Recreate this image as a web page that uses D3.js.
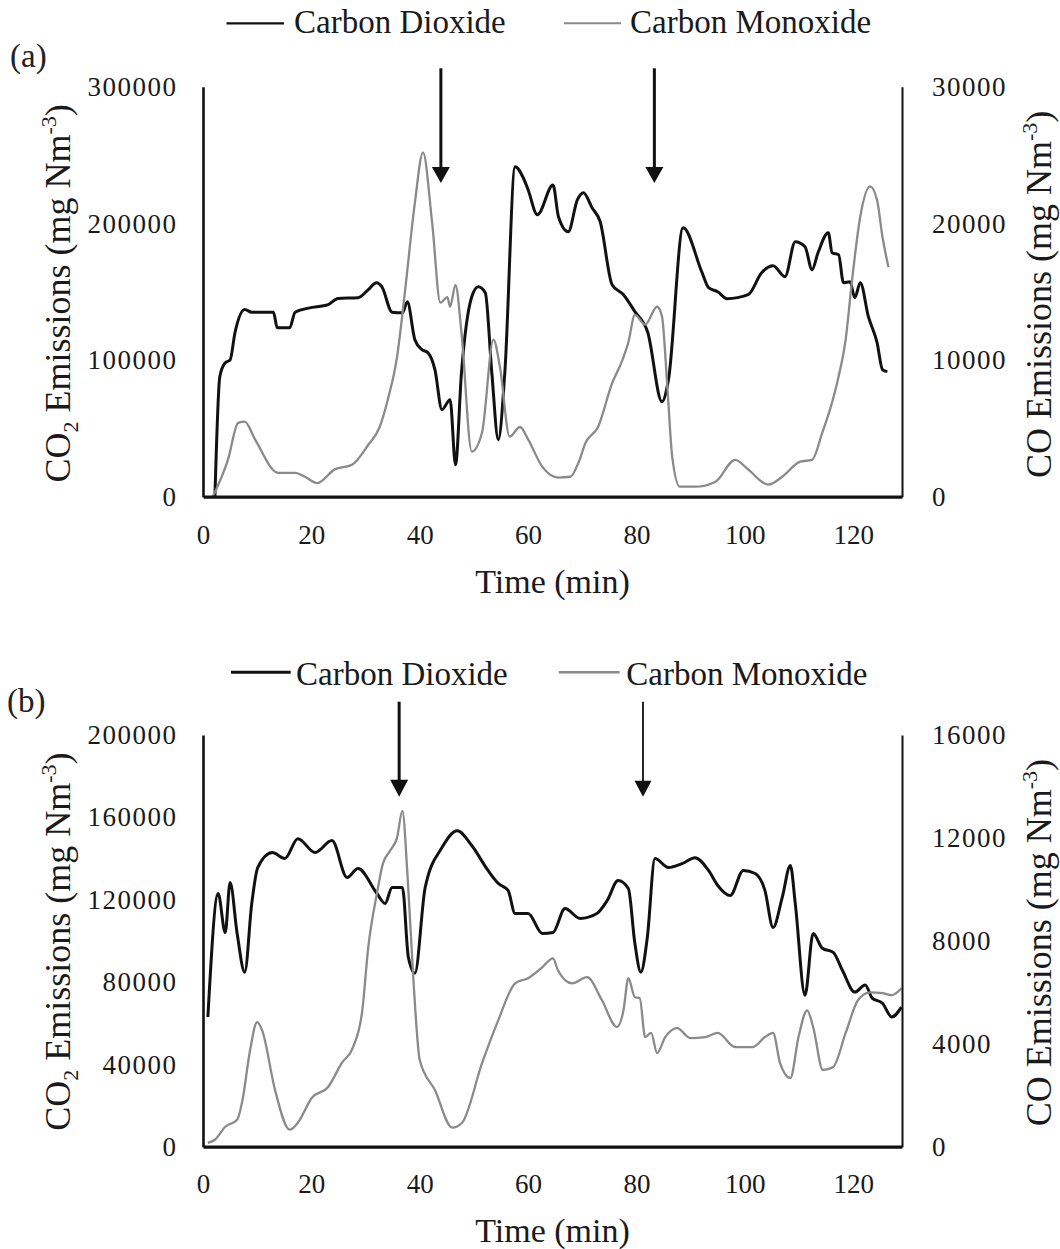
<!DOCTYPE html>
<html><head><meta charset="utf-8">
<script src="https://cdn.jsdelivr.net/npm/d3@7"></script>
<style>
html,body{margin:0;padding:0;background:#fff;}
svg{display:block;}
</style></head><body>
<svg id="chart" width="1060" height="1249"></svg>
<script>
// ---------- data ----------
const seriesNames = ["Carbon Dioxide", "Carbon Monoxide"];
const timeTicks = [0, 20, 40, 60, 80, 100, 120];
const co2TicksA = [0, 100000, 200000, 300000];
const coTicksA = [0, 10000, 20000, 30000];
const co2TicksB = [0, 40000, 80000, 120000, 160000, 200000];
const coTicksB = [0, 4000, 8000, 12000, 16000];

// Panel (a) – CO2
const timeA_CO2 = [2.2,3.1,4.1,5.0,5.9,7.7,9.0,13.0,13.7,16.0,17.0,19.5,23.1,24.9,28.6,30.5,32.0,33.0,34.9,36.8,37.7,39.1,40.4,41.5,42.8,44.1,45.6,46.6,47.7,49.6,50.8,52.1,53.3,54.5,55.7,57.6,59.1,60.0,61.7,64.6,65.6,67.4,69.1,70.2,71.8,73.3,75.5,77.6,79.7,82.1,84.7,85.9,88.6,92.1,93.3,95.0,96.7,100.6,103.1,105.2,107.4,109.3,111.1,112.4,113.5,115.4,116.1,117.3,118.2,119.4,120.3,121.3,122.8,124.4,125.4,126.3];
const co2A = [0,87800,98000,100000,120000,137000,135000,135000,123600,123600,135000,138000,140500,145000,145600,151500,156600,153700,135000,134600,142700,114900,107600,105400,93000,63700,71000,23400,90700,146300,153700,149300,90700,41700,90700,241500,233400,224600,206300,228000,204900,193900,217300,222400,211500,201200,155100,147800,135400,120000,69500,85600,196800,163900,152900,150000,144900,147800,163900,169000,161000,186600,182900,166100,178500,193200,178500,177000,156600,157300,145600,156600,131700,112700,92900,91500];
// Panel (a) – CO
const timeA_CO = [1.8,4.6,6.5,7.7,9.6,13.9,17.0,18.8,21.1,24.3,27.5,30.5,32.6,34.1,35.8,37.3,39.1,40.6,42.3,43.8,45.1,45.6,46.6,47.7,49.6,51.5,53.6,54.8,56.6,58.5,60.0,62.6,65.6,67.8,69.3,70.6,72.9,75.5,77.4,78.5,79.7,81.6,83.8,84.7,85.7,86.6,88.0,90.8,94.6,98.2,100.6,104.3,106.9,110.2,112.4,114.3,116.1,117.3,118.6,119.8,121.3,123.1,124.4,125.4,126.5];
const coA = [0,2700,5400,5500,4200,1750,1750,1460,1000,2000,2340,3800,5100,7100,10200,15100,21500,25200,20000,14200,14600,13900,15500,12000,3300,4700,11500,9500,4400,5100,4200,2200,1400,1460,2500,3950,5100,8300,10000,11300,13300,12600,13900,13200,8000,2900,730,730,1100,2700,2000,880,1460,2560,2700,4700,6900,8800,11500,15900,20500,22700,21700,19000,16800];

// Panel (b) – CO2
const timeB_CO2 = [0.9,2.8,4.1,5.0,6.3,7.7,9.0,10.1,12.8,15.1,17.5,20.7,23.8,26.6,28.6,32.1,33.6,34.9,36.8,37.9,39.1,41.0,44.1,46.9,49.6,52.6,54.5,56.3,57.6,60.0,62.6,64.6,66.8,69.6,72.7,74.6,76.6,78.5,79.7,80.8,82.0,83.4,85.9,88.4,90.8,93.3,95.0,97.3,99.7,101.9,103.7,105.2,106.9,108.4,109.3,111.1,112.6,114.3,116.3,118.0,120.3,122.2,123.5,125.4,127.1,128.9];
const co2B = [63000,123000,104000,128300,103600,84800,118200,135600,142900,140000,149600,142900,148700,130800,135100,123000,118200,125900,125900,92000,84300,125900,145300,153500,146300,134200,127900,124500,113300,113300,103600,104100,115700,110900,113300,119600,129300,125400,98800,84800,101700,140000,135600,137500,140400,134200,126900,122000,134200,132700,124500,106500,121100,136600,118200,73600,103600,96400,94400,85700,75100,78500,72200,69700,63000,67800];
// Panel (b) – CO
const timeB_CO = [0.9,2.2,4.1,6.3,7.3,8.6,10.0,10.9,13.3,16.0,17.5,20.1,23.1,25.6,27.7,29.4,30.5,32.1,33.2,34.5,35.8,36.8,37.7,38.8,40.0,42.8,46.0,47.8,51.5,54.5,57.6,60.0,62.6,64.6,65.5,68.1,70.9,73.6,76.4,77.6,78.5,79.7,80.6,81.6,82.7,83.8,85.3,87.5,89.9,92.7,95.0,98.2,101.4,103.7,105.2,106.5,108.4,109.9,111.5,112.6,114.4,116.3,118.6,120.9,123.1,125.4,127.1,128.9];
const coB = [150,270,775,1050,1820,3640,4840,4530,2200,660,930,1900,2320,3250,3870,5300,7750,9840,11000,11500,12000,13050,10700,6590,3370,2200,740,930,3250,4920,6350,6550,6970,7320,6860,6350,6590,5700,4650,5300,6550,5810,5770,4260,4420,3640,4260,4610,4220,4260,4420,3870,3870,4260,4420,3250,2670,4260,5300,4650,2980,3100,4420,5700,6000,5970,5890,6160];

const arrowTimesA = [43.9, 83.3];
const arrowTimesB = [36.2, 81.2];

// ---------- drawing ----------
const svg = d3.select("#chart");
const FONT = "'Liberation Serif','Times New Roman',Times,serif";
const BLACK = "#111";
const GREY = "#8a8a8a";
const x = d3.scaleLinear().domain([0, 129]).range([203, 902]);

function styleTicks(sel, size, spacing) {
  sel.selectAll("text")
    .attr("font-family", FONT).attr("font-size", size)
    .attr("letter-spacing", spacing + "px").attr("fill", "#1a1a1a");
}

function yTitle(g, tx, ty, withSub) {
  const t = g.append("text")
    .attr("transform", `translate(${tx},${ty}) rotate(-90)`)
    .attr("text-anchor", "middle")
    .attr("font-family", FONT).attr("font-size", 36).attr("fill", "#1a1a1a");
  if (withSub) {
    t.append("tspan").text("CO");
    t.append("tspan").attr("font-size", 22).attr("dy", 8).text("2");
    t.append("tspan").attr("dy", -8).text(" Emissions (mg Nm");
  } else {
    t.append("tspan").text("CO Emissions (mg Nm");
  }
  t.append("tspan").attr("font-size", 22).attr("dy", -14).text("-3");
  t.append("tspan").attr("dy", 14).text(")");
}

function drawPanel(p) {
  const g = svg.append("g");
  const yL = d3.scaleLinear().domain([0, p.co2Max]).range([p.bottom, p.top]);
  const yR = d3.scaleLinear().domain([0, p.coMax]).range([p.bottom, p.top]);

  const lineL = d3.line().x(d => x(d[0])).y(d => yL(d[1])).curve(d3.curveMonotoneX);
  const lineR = d3.line().x(d => x(d[0])).y(d => yR(d[1])).curve(d3.curveMonotoneX);

  g.append("path").datum(d3.zip(p.tCO2, p.co2))
    .attr("d", lineL).attr("fill", "none").attr("stroke", BLACK)
    .attr("stroke-width", 3).attr("stroke-linejoin", "round");
  g.append("path").datum(d3.zip(p.tCO, p.co))
    .attr("d", lineR).attr("fill", "none").attr("stroke", GREY)
    .attr("stroke-width", 2.3).attr("stroke-linejoin", "round");

  // axes
  const axL = g.append("g").attr("transform", `translate(${x(0)},0)`)
    .call(d3.axisLeft(yL).tickValues(p.co2Ticks).tickSize(0).tickPadding(25.5).tickFormat(d3.format("d")));
  axL.select(".domain").attr("stroke", BLACK).attr("stroke-width", 2.6);
  styleTicks(axL, 27, 1.5);

  const axR = g.append("g").attr("transform", `translate(${x(129)},0)`)
    .call(d3.axisRight(yR).tickValues(p.coTicks).tickSize(0).tickPadding(30).tickFormat(d3.format("d")));
  axR.select(".domain").attr("stroke", BLACK).attr("stroke-width", 2);
  styleTicks(axR, 27, 1.5);

  const axB = g.append("g").attr("transform", `translate(0,${p.bottom})`)
    .call(d3.axisBottom(x).tickValues(timeTicks).tickSize(0).tickPadding(p.xPad).tickFormat(d3.format("d")));
  axB.select(".domain").attr("stroke", BLACK).attr("stroke-width", 3.2);
  styleTicks(axB, 27, 0);

  // arrows
  p.arrows.forEach((t, i) => {
    const ax = x(t), w = p.arrowW[i];
    const hw = p.headW[i] / 2, hh = p.headH[i];
    g.append("line").attr("x1", ax).attr("x2", ax)
      .attr("y1", p.arrowTop).attr("y2", p.arrowTip - hh + 2)
      .attr("stroke", BLACK).attr("stroke-width", w);
    g.append("path")
      .attr("d", `M${ax - hw},${p.arrowTip - hh} L${ax + hw},${p.arrowTip - hh} L${ax},${p.arrowTip} Z`)
      .attr("fill", BLACK);
  });

  // legend
  const lg = p.legend;
  g.append("line").attr("x1", lg.l1[0]).attr("x2", lg.l1[1]).attr("y1", lg.ly).attr("y2", lg.ly)
    .attr("stroke", BLACK).attr("stroke-width", lg.w1);
  g.append("text").attr("x", lg.t1).attr("y", lg.ty).text(seriesNames[0])
    .attr("font-family", FONT).attr("font-size", 33).attr("fill", "#1a1a1a");
  g.append("line").attr("x1", lg.l2[0]).attr("x2", lg.l2[1]).attr("y1", lg.ly).attr("y2", lg.ly)
    .attr("stroke", GREY).attr("stroke-width", lg.w2);
  g.append("text").attr("x", lg.t2).attr("y", lg.ty).text(seriesNames[1])
    .attr("font-family", FONT).attr("font-size", 33).attr("fill", "#1a1a1a");

  // panel label
  g.append("text").attr("x", p.labelX).attr("y", p.labelY).text(p.label)
    .attr("font-family", FONT).attr("font-size", 33).attr("fill", "#222");

  // axis titles
  g.append("text").attr("x", (x(0) + x(129)) / 2).attr("y", p.timeY)
    .attr("text-anchor", "middle").attr("font-family", FONT).attr("font-size", 34)
    .attr("fill", "#1a1a1a").text("Time (min)");
  yTitle(g, 69.5, p.titleCY, true);
  yTitle(g, 1051, p.titleCY + 1, false);
}

drawPanel({
  top: 86.7, bottom: 496.7, co2Max: 300000, coMax: 30000,
  co2Ticks: co2TicksA, coTicks: coTicksA, xPad: 28,
  tCO2: timeA_CO2, co2: co2A, tCO: timeA_CO, co: coA,
  arrows: arrowTimesA, arrowW: [3, 3], headW: [18, 18], headH: [16, 16],
  arrowTop: 68.3, arrowTip: 183,
  legend: { ly: 23.3, ty: 33.3, l1: [226.5, 284], t1: 294, w1: 2.2, l2: [564, 621], t2: 630, w2: 2 },
  label: "(a)", labelX: 10, labelY: 66.7, timeY: 593.3, titleCY: 293.3
});

drawPanel({
  top: 735, bottom: 1146.7, co2Max: 200000, coMax: 16000,
  co2Ticks: co2TicksB, coTicks: coTicksB, xPad: 27,
  tCO2: timeB_CO2, co2: co2B, tCO: timeB_CO, co: coB,
  arrows: arrowTimesB, arrowW: [3, 1.8], headW: [18, 17], headH: [17, 16],
  arrowTop: 701.7, arrowTip: 796.7,
  legend: { ly: 672.3, ty: 685, l1: [231, 290.7], t1: 296, w1: 3, l2: [558.7, 619.6], t2: 626.3, w2: 2.5 },
  label: "(b)", labelX: 7, labelY: 711.7, timeY: 1241.7, titleCY: 941.7
});
</script>
</body></html>
